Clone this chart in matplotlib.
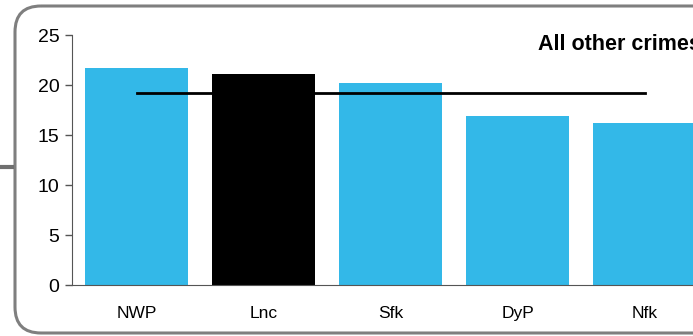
import numpy as np
import matplotlib.pyplot as plt
from matplotlib.patches import FancyBboxPatch

plt.rcParams['font.family'] = ['Liberation Sans', 'DejaVu Sans']

#-----Data-----

areas = ["NWP", "Lnc", "Sfk", "DyP", "Nfk"]
rates = [21.7, 21.1, 20.2, 16.9, 16.2]
bar_colors = ["#33b8e8", "#000000", "#33b8e8", "#33b8e8", "#33b8e8"]
average = 19.2
title = "All other crimes"

#-----Figure-----

W, H = 693, 336
fig = plt.figure(figsize=(W / 100, H / 100), dpi=100)

# overlay in pixel coords for the panel frame
bg = fig.add_axes([0, 0, 1, 1], zorder=-1)
bg.set_xlim(0, W)
bg.set_ylim(H, 0)
bg.axis("off")
bg.add_patch(FancyBboxPatch((15, 6), 740, 327,
                            boxstyle="round,pad=0,rounding_size=26",
                            fill=False, edgecolor="#7f7f7f", linewidth=2.2))
bg.plot([0, 14], [167, 167], color="#6f6f6f", lw=3, solid_capstyle="butt")

ax = fig.add_axes([72 / W, 51 / H, 636 / W, 250 / H])
x = np.arange(len(areas))
ax.bar(x, rates, width=0.81, color=bar_colors, zorder=1)
ax.plot([x[0], x[-1]], [average, average], color="black", lw=2, zorder=3)

ax.set_xlim(-0.508, 4.5)
ax.set_ylim(0, 25)
ax.set_yticks([0, 5, 10, 15, 20, 25])
ax.set_xticks(x)
ax.set_xticklabels(areas, fontsize=12.5)
ax.tick_params(axis="y", labelsize=14, length=5, width=1, color="#555555", pad=4)
ax.tick_params(axis="x", length=0, pad=15)
ax.patch.set_alpha(0)

for s in ["top", "right"]:
    ax.spines[s].set_visible(False)
ax.spines["left"].set_color("#555555")
ax.spines["bottom"].set_color("#555555")
ax.spines["bottom"].set_zorder(4)

bg.text(538, 44, title, fontsize=15.5, fontweight="bold", ha="left", va="center")

fig.savefig("out.png", dpi=100)
